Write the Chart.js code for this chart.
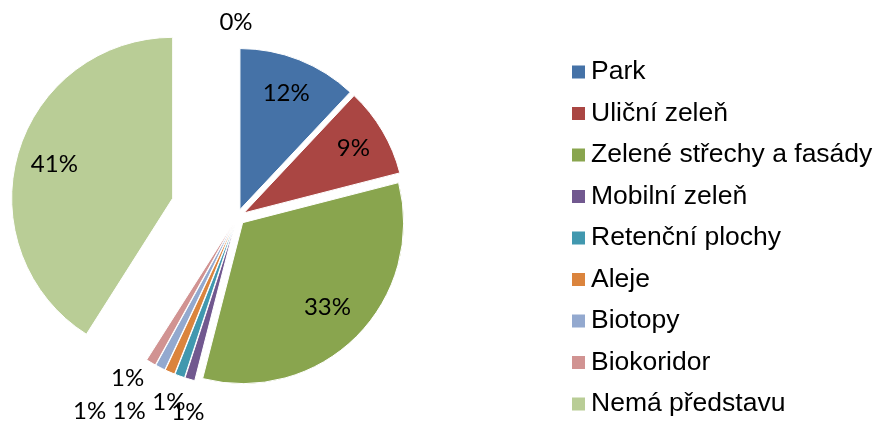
<!DOCTYPE html>
<html>
<head>
<meta charset="utf-8">
<script src="https://cdn.jsdelivr.net/npm/chart.js@4"></script>
<style>
  html, body { margin: 0; padding: 0; background: #fff; }
  #wrap { position: relative; width: 877px; height: 430px; }
</style>
</head>
<body>
<div id="wrap"><canvas id="pie"></canvas></div>
<script>
// data (percent of answers)
const categories = ["Park", "Uliční zeleň", "Zelené střechy a fasády", "Mobilní zeleň",
  "Retenční plochy", "Aleje", "Biotopy", "Biokoridor", "Nemá představu", ""];
const shares = [12, 9, 33, 1, 1, 1, 1, 1, 41, 0];
const colors = ["#4572A7", "#AA4643", "#89A54E", "#71588F", "#4198AF",
  "#DB843D", "#93A9CF", "#D19392", "#B9CD96", "#A47D7C"];

// how far each slice is pulled out of the pie (px)
const explodeOffsets = [8, 8, 8, 8, 8, 8, 8, 8, 67, 0];
// label placement: radius as part of the slice radius, plus small nudges
const labelSpots = [
  { r: 0.78 }, { r: 0.79 }, { r: 0.745 },
  { r: 1.2, dx: 7, dy: 2 },
  { r: 1.2, dx: 0, dy: -4 },
  { r: 1.2, dx: -28, dy: 10 },
  { r: 1.2, dx: -56, dy: 15 },
  { r: 1.2, dx: -7, dy: -12 },
  { r: 0.765 },
  { r: 1.21, dx: -1, dy: 0 }
];

const total = shares.reduce((a, b) => a + b, 0);

const explodePlugin = {
  id: "explode",
  afterUpdate(chart) {
    chart.getDatasetMeta(0).data.forEach((arc, i) => {
      if (arc.$exploded) return;
      const baseDraw = arc.draw;
      arc.draw = function (ctx) {
        const mid = (this.startAngle + this.endAngle) / 2;
        const d = explodeOffsets[i] || 0;
        ctx.save();
        ctx.translate(Math.cos(mid) * d, Math.sin(mid) * d);
        baseDraw.call(this, ctx);
        ctx.restore();
      };
      arc.$exploded = true;
    });
  }
};

const labelPlugin = {
  id: "sliceLabels",
  afterDatasetsDraw(chart) {
    const ctx = chart.ctx;
    ctx.save();
    ctx.font = "24px Lato";
    ctx.fillStyle = "#000";
    ctx.textAlign = "center";
    ctx.textBaseline = "middle";
    chart.getDatasetMeta(0).data.forEach((arc, i) => {
      const mid = (arc.startAngle + arc.endAngle) / 2;
      const spot = labelSpots[i];
      const dist = (explodeOffsets[i] || 0) + arc.outerRadius * spot.r;
      const x = arc.x + Math.cos(mid) * dist + (spot.dx || 0);
      const y = arc.y + Math.sin(mid) * dist + (spot.dy || 0);
      ctx.fillText(Math.round(shares[i] / total * 100) + "%", x, y);
    });
    ctx.restore();
  }
};

const legendPlugin = {
  id: "sideLegend",
  afterDraw(chart) {
    const ctx = chart.ctx;
    ctx.save();
    ctx.font = "26.5px 'Liberation Sans', Arial, sans-serif";
    ctx.textBaseline = "middle";
    ctx.textAlign = "left";
    let row = 0;
    categories.forEach((name, i) => {
      if (!name) return;
      const y = 72 + row * 41.5;
      ctx.fillStyle = colors[i];
      ctx.fillRect(572, y - 6.5, 13, 13);
      ctx.fillStyle = "#000";
      ctx.fillText(name, 591, y);
      row++;
    });
    ctx.restore();
  }
};

new Chart(document.getElementById("pie"), {
  type: "pie",
  data: {
    labels: categories,
    datasets: [{
      data: shares,
      backgroundColor: colors,
      borderColor: "#fff",
      borderWidth: 1,
      clip: false
    }]
  },
  options: {
    responsive: true,
    maintainAspectRatio: false,
    animation: false,
    events: [],
    radius: 161,
    layout: { padding: { left: 0, right: 403, top: 4, bottom: 0 } },
    plugins: {
      legend: { display: false },
      tooltip: { enabled: false }
    }
  },
  plugins: [explodePlugin, labelPlugin, legendPlugin]
});
</script>
</body>
</html>
